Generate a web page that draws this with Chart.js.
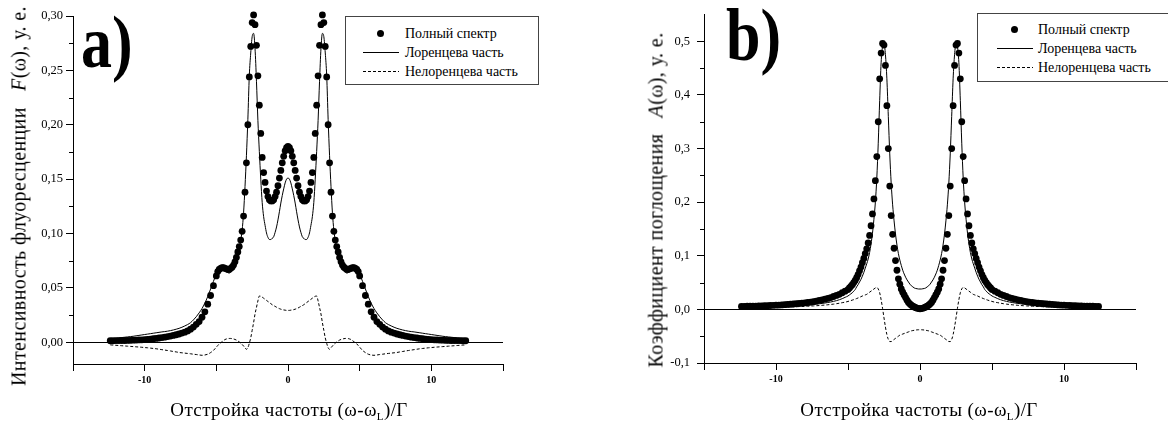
<!DOCTYPE html>
<html lang="ru">
<head>
<meta charset="utf-8">
<title>Спектры флуоресценции и поглощения</title>
<script src="https://cdn.jsdelivr.net/npm/chart.js@4.4.1/dist/chart.umd.min.js"></script>
<style>
  html, body { margin: 0; padding: 0; background: #fff; }
  #page { position: relative; width: 1168px; height: 425px; overflow: hidden;
          font-family: 'Liberation Serif', 'DejaVu Serif', serif; color: #000; }
  canvas { position: absolute; top: 0; display: block; }
  #fluorCanvas { left: 0; }
  #absCanvas { left: 584px; }
  .tag { position: absolute; font-family: 'Liberation Serif', 'DejaVu Serif', serif; font-weight: 700;
         font-size: 62px; line-height: 62px; transform: scaleY(1.2); transform-origin: left top; white-space: nowrap; }
  .ytitle { position: absolute; white-space: nowrap; font-size: 20px; letter-spacing: 0.4px;
            transform: translate(-50%, -50%) rotate(-90deg); }
  .xtitle { position: absolute; white-space: nowrap; font-size: 19px; letter-spacing: 0.4px;
            transform: translate(-50%, -50%); }
  .xtitle sub { font-size: 11px; vertical-align: -4px; }
  .legend { position: absolute; border: 1px solid #444; background: #fff; font-size: 14px; }
  .legend .row { position: absolute; left: 0; height: 19px; display: flex; align-items: center; white-space: nowrap; }
  .legend .sym { position: relative; width: 36px; height: 19px; }
  .legend .dot { position: absolute; left: 14px; top: 6px; width: 7px; height: 7px; border-radius: 50%; background: #000; }
  .legend .solid { position: absolute; left: 0; top: 9px; width: 36px; height: 1px; background: #000; }
  .legend .dash { position: absolute; left: 0; top: 9px; width: 36px; height: 1px;
                  background: repeating-linear-gradient(to right, #000 0 3px, transparent 3px 5px); }
</style>
</head>
<body>
<div id="page">
  <canvas id="fluorCanvas" width="584" height="425"></canvas>
  <canvas id="absCanvas" width="584" height="425"></canvas>

  <div class="tag" style="left:81px; top:5px;">a)</div>
  <div class="tag" style="left:726px; top:-2px;">b)</div>

  <div class="ytitle" style="left:19px; top:196px;">Интенсивность флуоресценции&nbsp;&nbsp;&nbsp;<i>F</i>(ω), у. е.</div>
  <div class="ytitle" style="left:656px; top:200px;">Коэффициент поглощения&nbsp;&nbsp;&nbsp;<i>A</i>(ω), у. е.</div>

  <div class="xtitle" style="left:289px; top:410px;">Отстройка частоты (ω-ω<sub>L</sub>)/Г</div>
  <div class="xtitle" style="left:919px; top:410px;">Отстройка частоты (ω-ω<sub>L</sub>)/Г</div>

  <div class="legend" id="fluorLegend" style="left:345px; top:16px; width:192px; height:67px;"></div>
  <div class="legend" id="absLegend" style="left:977px; top:13px; width:200px; height:67px;"></div>
</div>

<script>
// названия рядов
const seriesNames = ['Полный спектр', 'Лоренцева часть', 'Нелоренцева часть'];

// отстройка (ω-ωL)/Г
const detuning = [
  -12.4, -12.2, -12.0, -11.8, -11.6, -11.4, -11.2,
  -11.0, -10.8, -10.6, -10.4, -10.2, -10.0, -9.8, -9.6, -9.4, -9.2,
  -9.0, -8.8, -8.6, -8.4, -8.2, -8.0, -7.8, -7.6, -7.4, -7.2,
  -7.0, -6.8, -6.6, -6.4, -6.2, -6.0, -5.8, -5.6, -5.4, -5.2,
  -5.0, -4.9, -4.8, -4.7, -4.6, -4.5, -4.4, -4.3, -4.2, -4.1,
  -4.0, -3.9, -3.8, -3.7, -3.6, -3.5, -3.4, -3.3, -3.2, -3.1,
  -3.0, -2.9, -2.8, -2.7, -2.6, -2.5, -2.4, -2.3, -2.2, -2.1,
  -2.0, -1.9, -1.8, -1.7, -1.6, -1.5, -1.4, -1.3, -1.2, -1.1,
  -1.0, -0.9, -0.8, -0.7, -0.6, -0.5, -0.4, -0.3, -0.2, -0.1,
  0,
  0.1, 0.2, 0.3, 0.4, 0.5, 0.6, 0.7, 0.8, 0.9, 1.0,
  1.1, 1.2, 1.3, 1.4, 1.5, 1.6, 1.7, 1.8, 1.9, 2.0,
  2.1, 2.2, 2.3, 2.4, 2.5, 2.6, 2.7, 2.8, 2.9, 3.0,
  3.1, 3.2, 3.3, 3.4, 3.5, 3.6, 3.7, 3.8, 3.9, 4.0,
  4.1, 4.2, 4.3, 4.4, 4.5, 4.6, 4.7, 4.8, 4.9, 5.0,
  5.2, 5.4, 5.6, 5.8, 6.0, 6.2, 6.4, 6.6, 6.8, 7.0,
  7.2, 7.4, 7.6, 7.8, 8.0, 8.2, 8.4, 8.6, 8.8, 9.0,
  9.2, 9.4, 9.6, 9.8, 10.0, 10.2, 10.4, 10.6, 10.8, 11.0,
  11.2, 11.4, 11.6, 11.8, 12.0, 12.2, 12.4
];

// a) интенсивность флуоресценции F(ω)
const fluorFull = [
  0.0014, 0.0014, 0.0015, 0.0015, 0.0016, 0.0016, 0.0017,
  0.0018, 0.0019, 0.0020, 0.0021, 0.0022, 0.0024, 0.0026, 0.0029, 0.0032, 0.0035,
  0.0039, 0.0043, 0.0047, 0.0052, 0.0057, 0.0063, 0.0069, 0.0076, 0.0084, 0.0093,
  0.0104, 0.012, 0.014, 0.0165, 0.019, 0.023, 0.028, 0.035, 0.043, 0.052,
  0.061, 0.065, 0.067, 0.068, 0.0685, 0.0685, 0.068, 0.0675, 0.067, 0.067,
  0.068, 0.069, 0.071, 0.074, 0.078, 0.083, 0.088, 0.094, 0.102, 0.116,
  0.138, 0.165, 0.200, 0.244, 0.272, 0.294, 0.301, 0.292, 0.273, 0.245,
  0.218, 0.192, 0.170, 0.156, 0.147, 0.139, 0.134, 0.131, 0.130, 0.130,
  0.131, 0.134, 0.138, 0.144, 0.151, 0.158, 0.165, 0.171, 0.176, 0.179,
  0.180,
  0.179, 0.176, 0.171, 0.165, 0.158, 0.151, 0.144, 0.138, 0.134, 0.131,
  0.130, 0.130, 0.131, 0.134, 0.139, 0.147, 0.156, 0.170, 0.192, 0.218,
  0.245, 0.273, 0.292, 0.301, 0.294, 0.272, 0.244, 0.200, 0.165, 0.138,
  0.116, 0.102, 0.094, 0.088, 0.083, 0.078, 0.074, 0.071, 0.069, 0.068,
  0.067, 0.067, 0.0675, 0.068, 0.0685, 0.0685, 0.068, 0.067, 0.065, 0.061,
  0.052, 0.043, 0.035, 0.028, 0.023, 0.019, 0.0165, 0.014, 0.012, 0.0104,
  0.0093, 0.0084, 0.0076, 0.0069, 0.0063, 0.0057, 0.0052, 0.0047, 0.0043, 0.0039,
  0.0035, 0.0032, 0.0029, 0.0026, 0.0024, 0.0022, 0.0021, 0.0020, 0.0019, 0.0018,
  0.0017, 0.0016, 0.0016, 0.0015, 0.0015, 0.0014, 0.0014
];
const fluorLorentz = [
  0.0031, 0.0034, 0.0037, 0.0040, 0.0043, 0.0046, 0.0049,
  0.0052, 0.0055, 0.0059, 0.0063, 0.0067, 0.0071, 0.0075, 0.0079, 0.0083, 0.0087,
  0.0091, 0.0095, 0.0098, 0.0102, 0.0107, 0.0113, 0.012, 0.0128, 0.0138, 0.015,
  0.0163, 0.018, 0.0205, 0.0235, 0.027, 0.031, 0.036, 0.042, 0.049, 0.056,
  0.063, 0.0665, 0.069, 0.069, 0.0688, 0.0677, 0.0663, 0.065, 0.064, 0.0636,
  0.0645, 0.0655, 0.0677, 0.071, 0.0754, 0.081, 0.0867, 0.0935, 0.103, 0.119,
  0.143, 0.1715, 0.205, 0.245, 0.266, 0.281, 0.284, 0.270, 0.240, 0.204,
  0.1755, 0.150, 0.1285, 0.1155, 0.1075, 0.1005, 0.0965, 0.0945, 0.0945, 0.0955,
  0.097, 0.101, 0.106, 0.1125, 0.120, 0.128, 0.135, 0.141, 0.1465, 0.150,
  0.151,
  0.150, 0.1465, 0.141, 0.135, 0.128, 0.120, 0.1125, 0.106, 0.101, 0.097,
  0.0955, 0.0945, 0.0945, 0.0965, 0.1005, 0.1075, 0.1155, 0.1285, 0.150, 0.1755,
  0.204, 0.240, 0.270, 0.284, 0.281, 0.266, 0.245, 0.205, 0.1715, 0.143,
  0.119, 0.103, 0.0935, 0.0867, 0.081, 0.0754, 0.071, 0.0677, 0.0655, 0.0645,
  0.0636, 0.064, 0.065, 0.0663, 0.0677, 0.0688, 0.069, 0.069, 0.0665, 0.063,
  0.056, 0.049, 0.042, 0.036, 0.031, 0.027, 0.0235, 0.0205, 0.018, 0.0163,
  0.015, 0.0138, 0.0128, 0.012, 0.0113, 0.0107, 0.0102, 0.0098, 0.0095, 0.0091,
  0.0087, 0.0083, 0.0079, 0.0075, 0.0071, 0.0067, 0.0063, 0.0059, 0.0055, 0.0052,
  0.0049, 0.0046, 0.0043, 0.0040, 0.0037, 0.0034, 0.0031
];
const fluorNonLorentz = [
  -0.0024, -0.0026, -0.0028, -0.0030, -0.0032, -0.0034, -0.0036,
  -0.0038, -0.0040, -0.0042, -0.0044, -0.0046, -0.0049, -0.0051, -0.0054, -0.0057, -0.0060,
  -0.0064, -0.0068, -0.0072, -0.0076, -0.0080, -0.0085, -0.0089, -0.0094, -0.0097, -0.0100,
  -0.0103, -0.0106, -0.0110, -0.0113, -0.0117, -0.0120, -0.0117, -0.0110, -0.0095, -0.0075,
  -0.0045, -0.0030, -0.0015, -0.0005, 0.0005, 0.0015, 0.0025, 0.0030, 0.0034, 0.0035,
  0.0035, 0.0033, 0.0030, 0.0026, 0.0020, 0.0012, 0.0003, -0.0008, -0.0020, -0.0035,
  -0.0050, -0.0065, -0.0050, -0.0010, 0.004, 0.011, 0.018, 0.026, 0.032, 0.038,
  0.0425, 0.0423, 0.0415, 0.0405, 0.0395, 0.0385, 0.0375, 0.0365, 0.0355, 0.0345,
  0.0337, 0.0330, 0.0322, 0.0315, 0.0309, 0.0304, 0.0300, 0.0297, 0.0295, 0.0293,
  0.0293,
  0.0293, 0.0295, 0.0297, 0.0300, 0.0304, 0.0309, 0.0315, 0.0322, 0.0330, 0.0337,
  0.0345, 0.0355, 0.0365, 0.0375, 0.0385, 0.0395, 0.0405, 0.0415, 0.0423, 0.0425,
  0.038, 0.032, 0.026, 0.018, 0.011, 0.004, -0.0010, -0.0050, -0.0065, -0.0050,
  -0.0035, -0.0020, -0.0008, 0.0003, 0.0012, 0.0020, 0.0026, 0.0030, 0.0033, 0.0035,
  0.0035, 0.0034, 0.0030, 0.0025, 0.0015, 0.0005, -0.0005, -0.0015, -0.0030, -0.0045,
  -0.0075, -0.0095, -0.0110, -0.0117, -0.0120, -0.0117, -0.0113, -0.0110, -0.0106, -0.0103,
  -0.0100, -0.0097, -0.0094, -0.0089, -0.0085, -0.0080, -0.0076, -0.0072, -0.0068, -0.0064,
  -0.0060, -0.0057, -0.0054, -0.0051, -0.0049, -0.0046, -0.0044, -0.0042, -0.0040, -0.0038,
  -0.0036, -0.0034, -0.0032, -0.0030, -0.0028, -0.0026, -0.0024
];

// b) коэффициент поглощения A(ω)
const absFull = [
  0.0056, 0.0057, 0.0058, 0.0059, 0.0060, 0.0062, 0.0064,
  0.0066, 0.0068, 0.0070, 0.0072, 0.0075, 0.0078, 0.0081, 0.0084, 0.0088, 0.0092,
  0.0096, 0.0100, 0.0105, 0.0110, 0.0115, 0.0121, 0.0128, 0.0135, 0.0145, 0.0155,
  0.0167, 0.0178, 0.019, 0.0205, 0.022, 0.024, 0.026, 0.028, 0.031, 0.034,
  0.037, 0.040, 0.043, 0.046, 0.050, 0.054, 0.059, 0.065, 0.072, 0.079,
  0.087, 0.095, 0.104, 0.113, 0.124, 0.138, 0.156, 0.178, 0.206, 0.24,
  0.285, 0.35, 0.43, 0.478, 0.496, 0.493, 0.455, 0.38, 0.30, 0.23,
  0.175, 0.14, 0.114, 0.091, 0.073, 0.057, 0.047, 0.038, 0.032, 0.027,
  0.022, 0.017, 0.013, 0.010, 0.0078, 0.0060, 0.0045, 0.0032, 0.0022, 0.0015,
  0.0012,
  0.0015, 0.0022, 0.0032, 0.0045, 0.0060, 0.0078, 0.010, 0.013, 0.017, 0.022,
  0.027, 0.032, 0.038, 0.047, 0.057, 0.073, 0.091, 0.114, 0.14, 0.175,
  0.23, 0.30, 0.38, 0.455, 0.493, 0.496, 0.478, 0.43, 0.35, 0.285,
  0.24, 0.206, 0.178, 0.156, 0.138, 0.124, 0.113, 0.104, 0.095, 0.087,
  0.079, 0.072, 0.065, 0.059, 0.054, 0.050, 0.046, 0.043, 0.040, 0.037,
  0.034, 0.031, 0.028, 0.026, 0.024, 0.022, 0.0205, 0.019, 0.0178, 0.0167,
  0.0155, 0.0145, 0.0135, 0.0128, 0.0121, 0.0115, 0.0110, 0.0105, 0.0100, 0.0096,
  0.0092, 0.0088, 0.0084, 0.0081, 0.0078, 0.0075, 0.0072, 0.0070, 0.0068, 0.0066,
  0.0064, 0.0062, 0.0060, 0.0059, 0.0058, 0.0057, 0.0056
];
const absLorentz = [
  0.0037, 0.0038, 0.0039, 0.0040, 0.0041, 0.0042, 0.0043,
  0.0044, 0.0045, 0.0046, 0.0047, 0.0048, 0.0050, 0.0052, 0.0054, 0.0056, 0.0058,
  0.0061, 0.0064, 0.0067, 0.0070, 0.0073, 0.0077, 0.0081, 0.0086, 0.0091, 0.0097,
  0.0104, 0.0111, 0.0119, 0.0128, 0.0138, 0.0150, 0.0163, 0.018, 0.020, 0.0225,
  0.025, 0.027, 0.029, 0.031, 0.034, 0.037, 0.042, 0.046, 0.051, 0.056,
  0.062, 0.069, 0.077, 0.085, 0.094, 0.106, 0.122, 0.142, 0.168, 0.20,
  0.245, 0.31, 0.39, 0.46, 0.49, 0.495, 0.475, 0.43, 0.36, 0.29,
  0.235, 0.195, 0.165, 0.14, 0.12, 0.104, 0.092, 0.082, 0.073, 0.066,
  0.060, 0.055, 0.051, 0.047, 0.044, 0.042, 0.040, 0.039, 0.0385, 0.038,
  0.038,
  0.038, 0.0385, 0.039, 0.040, 0.042, 0.044, 0.047, 0.051, 0.055, 0.060,
  0.066, 0.073, 0.082, 0.092, 0.104, 0.12, 0.14, 0.165, 0.195, 0.235,
  0.29, 0.36, 0.43, 0.475, 0.495, 0.49, 0.46, 0.39, 0.31, 0.245,
  0.20, 0.168, 0.142, 0.122, 0.106, 0.094, 0.085, 0.077, 0.069, 0.062,
  0.056, 0.051, 0.046, 0.042, 0.037, 0.034, 0.031, 0.029, 0.027, 0.025,
  0.0225, 0.020, 0.018, 0.0163, 0.0150, 0.0138, 0.0128, 0.0119, 0.0111, 0.0104,
  0.0097, 0.0091, 0.0086, 0.0081, 0.0077, 0.0073, 0.0070, 0.0067, 0.0064, 0.0061,
  0.0058, 0.0056, 0.0054, 0.0052, 0.0050, 0.0048, 0.0047, 0.0046, 0.0045, 0.0044,
  0.0043, 0.0042, 0.0041, 0.0040, 0.0039, 0.0038, 0.0037
];
const absNonLorentz = [
  0.0026, 0.0027, 0.0028, 0.0029, 0.0030, 0.0031, 0.0032,
  0.0033, 0.0034, 0.0035, 0.0036, 0.0037, 0.0039, 0.0040, 0.0041, 0.0043, 0.0044,
  0.0046, 0.0048, 0.0050, 0.0052, 0.0054, 0.0056, 0.0059, 0.0062, 0.0065, 0.0068,
  0.0072, 0.0076, 0.0081, 0.0086, 0.0092, 0.0098, 0.0106, 0.0115, 0.0125, 0.0135,
  0.0148, 0.0156, 0.0164, 0.0173, 0.0182, 0.0192, 0.0202, 0.0213, 0.0225, 0.0237,
  0.025, 0.026, 0.027, 0.028, 0.030, 0.032, 0.034, 0.036, 0.038, 0.040,
  0.041, 0.038, 0.031, 0.018, 0.002, -0.016, -0.033, -0.047, -0.056, -0.060,
  -0.060, -0.058, -0.056, -0.054, -0.052, -0.050, -0.048, -0.047, -0.046, -0.045,
  -0.044, -0.043, -0.042, -0.041, -0.040, -0.0395, -0.039, -0.0385, -0.0382, -0.038,
  -0.038,
  -0.038, -0.0382, -0.0385, -0.039, -0.0395, -0.040, -0.041, -0.042, -0.043, -0.044,
  -0.045, -0.046, -0.047, -0.048, -0.050, -0.052, -0.054, -0.056, -0.058, -0.060,
  -0.060, -0.056, -0.047, -0.033, -0.016, 0.002, 0.018, 0.031, 0.038, 0.041,
  0.040, 0.038, 0.036, 0.034, 0.032, 0.030, 0.028, 0.027, 0.026, 0.025,
  0.0237, 0.0225, 0.0213, 0.0202, 0.0192, 0.0182, 0.0173, 0.0164, 0.0156, 0.0148,
  0.0135, 0.0125, 0.0115, 0.0106, 0.0098, 0.0092, 0.0086, 0.0081, 0.0076, 0.0072,
  0.0068, 0.0065, 0.0062, 0.0059, 0.0056, 0.0054, 0.0052, 0.0050, 0.0048, 0.0046,
  0.0044, 0.0043, 0.0041, 0.0040, 0.0039, 0.0037, 0.0036, 0.0035, 0.0034, 0.0033,
  0.0032, 0.0031, 0.0030, 0.0029, 0.0028, 0.0027, 0.0026
];

// деления осей
const detuningTicks = [-15, -10, -5, 0, 5, 10, 15];
const detuningTickLabels = ['', '-10', '', '0', '', '10', ''];
const fluorTicks = [0, 0.05, 0.10, 0.15, 0.20, 0.25, 0.30];
const fluorTickLabels = ['0,00', '0,05', '0,10', '0,15', '0,20', '0,25', '0,30'];
const fluorMinorTicks = [0.025, 0.075, 0.125, 0.175, 0.225, 0.275];
const absTicks = [-0.1, 0, 0.1, 0.2, 0.3, 0.4, 0.5];
const absTickLabels = ['-0,1', '0,0', '0,1', '0,2', '0,3', '0,4', '0,5'];
const absMinorTicks = [-0.05, 0.05, 0.15, 0.25, 0.35, 0.45];

const serif = "'Liberation Serif', 'DejaVu Serif', serif";

function toPoints(values) {
    return detuning.map((x, i) => ({ x, y: values[i] }));
}

// короткие промежуточные деления на оси Y
const minorTicksPlugin = {
    id: 'minorTicks',
    afterDraw(chart, args, opts) {
        const yScale = chart.scales.y;
        const left = chart.chartArea.left;
        const ctx = chart.ctx;
        ctx.save();
        ctx.strokeStyle = '#000';
        ctx.lineWidth = 1;
        (opts.values || []).forEach(v => {
            const py = Math.round(yScale.getPixelForValue(v)) + 0.5;
            ctx.beginPath();
            ctx.moveTo(left - 4, py);
            ctx.lineTo(left, py);
            ctx.stroke();
        });
        ctx.restore();
    }
};

function makeDatasets(full, lorentz, nonLorentz) {
    return [
        {
            label: seriesNames[0],
            data: toPoints(full),
            showLine: false,
            pointRadius: 3.4,
            pointBackgroundColor: '#000',
            pointBorderColor: '#000',
            pointBorderWidth: 0,
            clip: false
        },
        {
            label: seriesNames[1],
            data: toPoints(lorentz),
            borderColor: '#000',
            borderWidth: 1,
            pointRadius: 0,
            cubicInterpolationMode: 'monotone',
            clip: false
        },
        {
            label: seriesNames[2],
            data: toPoints(nonLorentz),
            borderColor: '#000',
            borderWidth: 1,
            borderDash: [3, 2],
            pointRadius: 0,
            cubicInterpolationMode: 'monotone',
            clip: false
        }
    ];
}

function makeOptions(cfg) {
    return {
        responsive: false,
        animation: false,
        devicePixelRatio: 1,
        layout: { padding: { top: cfg.padTop, right: cfg.padRight, left: 0, bottom: 0 } },
        plugins: {
            legend: { display: false },
            tooltip: { enabled: false },
            minorTicks: { values: cfg.minor }
        },
        scales: {
            x: {
                type: 'linear',
                min: -15,
                max: 15,
                afterBuildTicks: s => { s.ticks = detuningTicks.map(v => ({ value: v })); },
                afterFit: s => { s.height = cfg.xHeight; },
                ticks: {
                    callback: (v, i) => detuningTickLabels[i],
                    autoSkip: false,
                    maxRotation: 0,
                    padding: 3,
                    color: '#000',
                    font: { family: serif, size: 10, weight: 'bold' }
                },
                grid: { drawOnChartArea: false, drawTicks: true, tickLength: 7, tickColor: '#000' },
                border: { display: true, color: '#000', width: 1 }
            },
            y: {
                type: 'linear',
                min: cfg.yMin,
                max: cfg.yMax,
                afterBuildTicks: s => { s.ticks = cfg.ticks.map(v => ({ value: v })); },
                afterFit: s => { s.width = cfg.yWidth; },
                ticks: {
                    callback: (v, i) => cfg.labels[i],
                    autoSkip: false,
                    padding: cfg.labelPad,
                    color: '#000',
                    font: { family: serif, size: 12.5 }
                },
                grid: {
                    drawOnChartArea: true,
                    drawTicks: true,
                    tickLength: 7,
                    tickColor: '#000',
                    color: ctx => (ctx.tick && Math.abs(ctx.tick.value) < 1e-9) ? '#000' : 'rgba(0,0,0,0)'
                },
                border: { display: true, color: '#000', width: 1 }
            }
        }
    };
}

function buildLegend(el, chart, symLeft, textLeft, rowTops) {
    const kinds = ['dot', 'solid', 'dash'];
    chart.data.datasets.forEach((ds, i) => {
        const row = document.createElement('div');
        row.className = 'row';
        row.style.top = rowTops[i] + 'px';
        row.style.left = symLeft + 'px';
        const sym = document.createElement('span');
        sym.className = 'sym';
        const mark = document.createElement('span');
        mark.className = kinds[i];
        sym.appendChild(mark);
        const txt = document.createElement('span');
        txt.textContent = ds.label;
        txt.style.marginLeft = (textLeft - symLeft - 36) + 'px';
        row.appendChild(sym);
        row.appendChild(txt);
        el.appendChild(row);
    });
}

const fluorChart = new Chart(document.getElementById('fluorCanvas'), {
    type: 'line',
    data: { datasets: makeDatasets(fluorFull, fluorLorentz, fluorNonLorentz) },
    options: makeOptions({
        padTop: 16, padRight: 81, xHeight: 61, yWidth: 73, labelPad: 3,
        yMin: -0.02, yMax: 0.30, ticks: fluorTicks, labels: fluorTickLabels, minor: fluorMinorTicks
    }),
    plugins: [minorTicksPlugin]
});

const absChart = new Chart(document.getElementById('absCanvas'), {
    type: 'line',
    data: { datasets: makeDatasets(absFull, absLorentz, absNonLorentz) },
    options: makeOptions({
        padTop: 11, padRight: 32, xHeight: 62, yWidth: 120, labelPad: 7,
        yMin: -0.1, yMax: 0.55, ticks: absTicks, labels: absTickLabels, minor: absMinorTicks
    }),
    plugins: [minorTicksPlugin]
});

buildLegend(document.getElementById('fluorLegend'), fluorChart, 17, 59, [7, 26, 45]);
buildLegend(document.getElementById('absLegend'), absChart, 19, 60, [6, 25, 44]);
</script>
</body>
</html>
